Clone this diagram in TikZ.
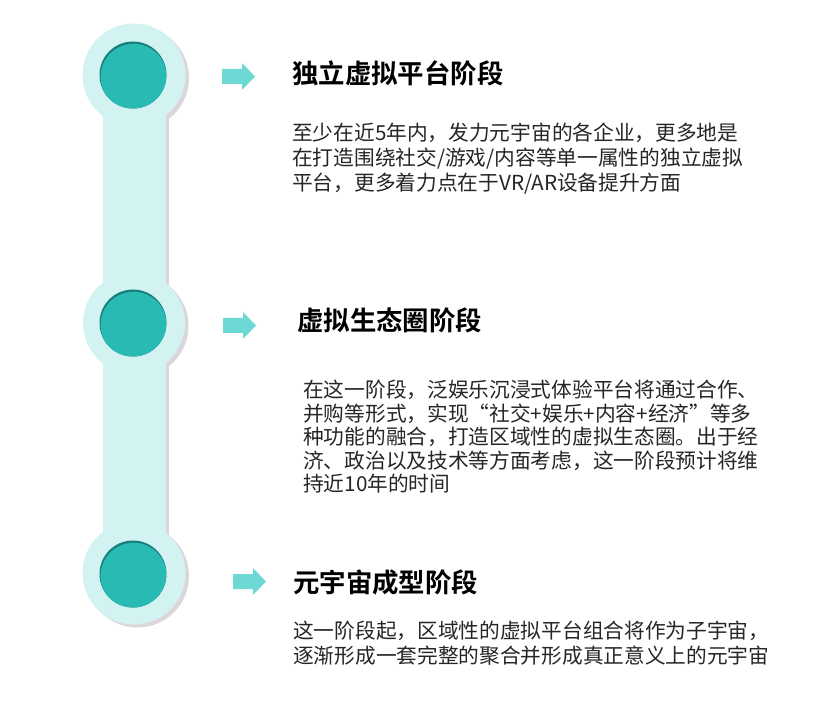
\documentclass[tikz,border=0pt]{standalone}
\usepackage{fontspec}
\newfontfamily\cjk{Noto Sans CJK SC}
\newfontfamily\cjkbold{Noto Sans CJK SC Bold}
\definecolor{lightcyan}{HTML}{D3F3F2}
\definecolor{shadowgray}{HTML}{DCD6DA}
\definecolor{tealfill}{HTML}{2ABAB4}
\definecolor{tealdark}{HTML}{17807C}
\definecolor{arrowcyan}{HTML}{6ED8D5}
\tikzset{
  titletext/.style={anchor=base west,inner sep=0pt,font=\cjkbold\fontsize{26.4}{30}\selectfont,text=black},
  bodytext/.style={anchor=base west,inner sep=0pt,font=\cjk\fontsize{20.7}{24}\selectfont,text=black!85},
  pics/blockarrow/.style={code={
    \fill[arrowcyan] (0,-7.5) -- (20,-7.5) -- (20,-13.5) -- (33,0) -- (20,13.5) -- (20,7.5) -- (0,7.5) -- cycle;
  }}
}
\begin{document}
\begin{tikzpicture}[x=1pt,y=-1pt]
\useasboundingbox[fill=white] (0,0) rectangle (836,727);
% shadows
\fill[shadowgray] (137.5,78) circle[radius=51.5];
\fill[shadowgray] (137.5,326) circle[radius=51];
\fill[shadowgray] (137.5,576) circle[radius=51.5];
\fill[shadowgray] (106.5,75) rectangle (169,573);
% light track
\fill[lightcyan] (134,75) circle[radius=51.5];
\fill[lightcyan] (134,323) circle[radius=51];
\fill[lightcyan] (134,573) circle[radius=51.5];
\fill[lightcyan] (103,75) rectangle (166,573);
% inner teal discs with inset shadow
\foreach \cy [count=\i] in {75,323,574} {
  \fill[tealdark] (133,\cy) circle[radius=33.5];
  \begin{scope}
    \clip (133,\cy) circle[radius=33.5];
    \fill[tealfill] (133.6,\cy+1.8) circle[radius=33];
  \end{scope}
  \coordinate (disc\i) at (133,\cy);
}
% arrows
\pic (arr1) at (222,76.5) {blockarrow};
\pic (arr2) at (223,325.5) {blockarrow};
\pic (arr3) at (233,581.5) {blockarrow};
% titles
\node[titletext] (t1) at (292,84) {独立虚拟平台阶段};
\node[titletext] (t2) at (297,331) {虚拟生态圈阶段};
\node[titletext] (t3) at (293,592) {元宇宙成型阶段};
% body 1
\node[bodytext] (b1l1) at (292,141) {至少在近5年内，发力元宇宙的各企业，更多地是};
\node[bodytext] (b1l2) at (292,166) {在打造围绕社交/游戏/内容等单一属性的独立虚拟};
\node[bodytext] (b1l3) at (292,191) {平台，更多着力点在于VR/AR设备提升方面};
% body 2
\node[bodytext] (b2l1) at (303,398) {在这一阶段，泛娱乐沉浸式体验平台将通过合作、};
\node[bodytext] (b2l2) at (303,421.3) {并购等形式，实现“社交+娱乐+内容+经济”等多};
\node[bodytext] (b2l3) at (303,444.6) {种功能的融合，打造区域性的虚拟生态圈。出于经};
\node[bodytext] (b2l4) at (303,468) {济、政治以及技术等方面考虑，这一阶段预计将维};
\node[bodytext] (b2l5) at (303,491.3) {持近10年的时间};
% body 3
\node[bodytext] (b3l1) at (293,638) {这一阶段起，区域性的虚拟平台组合将作为子宇宙，};
\node[bodytext] (b3l2) at (293,663.5) {逐渐形成一套完整的聚合并形成真正意义上的元宇宙};
\end{tikzpicture}
\end{document}
